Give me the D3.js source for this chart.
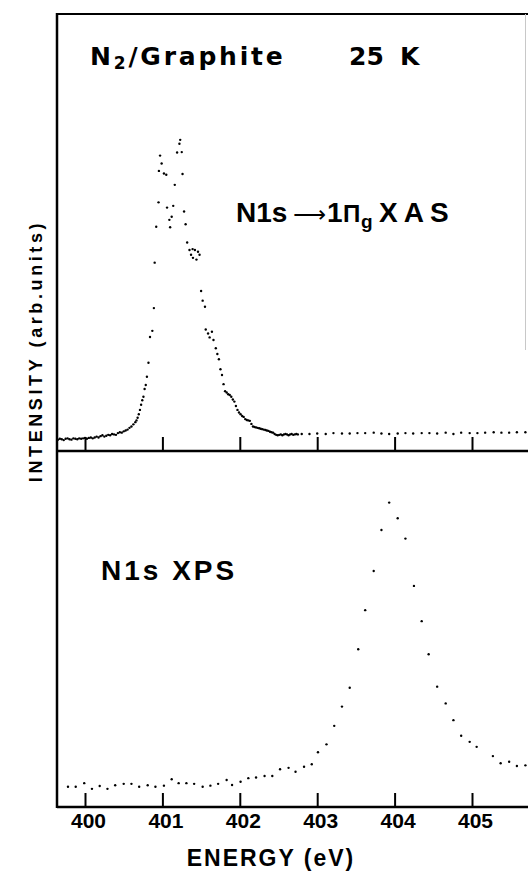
<!DOCTYPE html>
<html>
<head>
<meta charset="utf-8">
<script src="https://cdn.jsdelivr.net/npm/d3@7"></script>
<style>
  body { margin: 0; background: #fff; }
</style>
</head>
<body>
<div id="chart"></div>
<script>
// energy axis (eV)
const energyTicks = [400, 401, 402, 403, 404, 405];

// N1s -> 1pi_g XAS, upper panel (arb. units, 0 = panel bottom, 100 = panel top)
const xasEnergy = [
    399.650, 399.675, 399.700, 399.725, 399.750, 399.775, 399.800, 399.825, 399.850, 399.875,
    399.900, 399.925, 399.950, 399.975, 400.000, 400.025, 400.050, 400.075, 400.100, 400.125,
    400.150, 400.175, 400.200, 400.225, 400.250, 400.275, 400.300, 400.325, 400.350, 400.375,
    400.400, 400.425, 400.450, 400.475, 400.500, 400.525, 400.550, 400.575, 400.600, 400.625,
    400.650, 400.665, 400.680, 400.695, 400.710, 400.725, 400.740, 400.755, 400.770, 400.785,
    400.800, 400.820, 400.840, 400.870, 400.890, 400.900, 400.920, 400.950, 400.955, 400.970,
    400.990, 401.020, 401.050, 401.060, 401.090, 401.100, 401.120, 401.140, 401.160, 401.190,
    401.220, 401.230, 401.250, 401.260, 401.280, 401.300, 401.320, 401.350, 401.370, 401.390,
    401.395, 401.420, 401.440, 401.460, 401.480, 401.500, 401.520, 401.550, 401.560, 401.590,
    401.610, 401.640, 401.660, 401.690, 401.710, 401.730, 401.750, 401.770, 401.790, 401.810,
    401.830, 401.850, 401.870, 401.890, 401.910, 401.930, 401.950, 401.970, 401.990, 402.010,
    402.030, 402.050, 402.070, 402.090, 402.110, 402.130, 402.150, 402.170, 402.190, 402.210,
    402.230, 402.250, 402.270, 402.290, 402.310, 402.330, 402.350, 402.370, 402.390, 402.410,
    402.430, 402.450, 402.470, 402.490, 402.510, 402.530, 402.550, 402.570, 402.590, 402.610,
    402.630, 402.650, 402.670, 402.690, 402.710, 402.730, 402.750,
    402.80, 402.90, 403.00, 403.11, 403.21, 403.32, 403.42, 403.52, 403.62, 403.73,
    403.83, 403.93, 404.04, 404.14, 404.24, 404.35, 404.45, 404.55, 404.66, 404.76,
    404.86, 404.97, 405.07, 405.17, 405.28, 405.38, 405.48, 405.58, 405.69
];
const xasIntensity = [
    2.6, 2.8, 2.7, 2.5, 2.8, 2.9, 2.7, 2.6, 2.9, 2.8,
    2.7, 2.9, 2.8, 2.9, 3.0, 2.8, 3.0, 3.1, 2.9, 3.1,
    3.3, 3.1, 3.4, 3.6, 3.3, 3.5, 3.7, 3.6, 3.9, 3.8,
    3.7, 4.1, 4.3, 4.2, 4.5, 4.7, 4.9, 5.3, 5.6, 6.1,
    6.6, 7.0, 7.6, 8.4, 9.4, 10.6, 11.6, 12.4, 14.2, 15.1,
    17.0, 20.2, 26.1, 27.5, 32.7, 43.1, 51.3, 56.9, 64.1, 67.6,
    65.8, 63.5, 63.2, 55.7, 52.9, 51.2, 53.6, 56.1, 60.9, 68.3,
    70.3, 71.2, 68.4, 63.4, 54.8, 51.9, 47.7, 46.0, 44.9, 46.2,
    44.2, 46.0, 43.8, 45.6, 44.9, 36.6, 34.4, 33.0, 27.8, 26.9,
    26.0, 27.3, 25.4, 23.5, 22.2, 21.0, 18.7, 17.4, 15.3, 13.7,
    13.4, 13.0, 12.8, 12.4, 11.8, 11.3, 10.3, 9.4, 8.8, 8.4,
    8.0, 7.8, 7.3, 7.1, 7.0, 6.9, 6.2, 5.6, 5.5, 5.4,
    5.3, 5.2, 5.1, 5.0, 4.9, 4.8, 4.7, 4.6, 4.4, 4.3,
    4.2, 3.9, 3.7, 3.6, 3.7, 3.8, 3.6, 3.8, 3.9, 3.8,
    3.6, 3.8, 3.9, 3.7, 3.8, 3.9, 3.8,
    3.9, 3.9, 4.0, 3.9, 4.1, 4.0, 4.0, 4.1, 4.1, 4.2,
    4.0, 3.9, 4.0, 4.1, 4.0, 4.1, 4.1, 4.0, 4.2, 3.9,
    4.2, 4.1, 4.1, 4.2, 4.3, 4.2, 4.2, 4.3, 4.3
];

// N1s XPS, lower panel
const xpsEnergy = [
    399.78, 399.88, 399.99, 400.09, 400.19, 400.29, 400.39, 400.50, 400.60, 400.70,
    400.81, 400.91, 401.02, 401.12, 401.21, 401.31, 401.41, 401.52, 401.62, 401.72,
    401.83, 401.90, 402.01, 402.11, 402.21, 402.32, 402.42, 402.52, 402.63, 402.72,
    402.83, 402.93, 403.01, 403.12, 403.22, 403.32, 403.42, 403.53, 403.62, 403.73,
    403.83, 403.93, 404.04, 404.14, 404.25, 404.35, 404.44, 404.55, 404.66, 404.76,
    404.86, 404.97, 405.06, 405.27, 405.37, 405.48, 405.58, 405.69
];
const xpsIntensity = [
    5.7, 5.7, 6.7, 5.1, 5.9, 5.1, 6.1, 6.5, 6.5, 5.7,
    6.1, 5.7, 6.0, 7.8, 6.7, 6.7, 6.5, 5.7, 6.0, 6.5,
    7.6, 6.2, 7.1, 8.1, 8.3, 8.7, 8.7, 10.6, 11.0, 9.9,
    11.3, 12.0, 15.4, 17.6, 22.8, 28.2, 33.5, 44.3, 55.3, 66.3,
    77.8, 85.5, 81.1, 75.4, 62.1, 52.2, 42.9, 33.8, 29.1, 24.4,
    20.0, 18.3, 16.9, 14.3, 12.3, 12.7, 11.5, 11.7
];

const width = 528, height = 872;
const frame = { left: 57, right: 528, top: 14, mid: 451, bottom: 807 };
const sans = "Liberation Sans, Arial, sans-serif";
const wide = "DejaVu Sans, sans-serif";

const svg = d3.select("#chart").append("svg")
    .attr("width", width)
    .attr("height", height)
    .style("font-family", sans)
    .style("font-weight", "bold");

const x = d3.scaleLinear().domain([400, 405]).range([85, 472]);
const yTop = d3.scaleLinear().domain([0, 100]).range([frame.mid, frame.top]);
const yBot = d3.scaleLinear().domain([0, 100]).range([frame.bottom, frame.mid]);

// frame lines
svg.append("line")
    .attr("x1", frame.left).attr("x2", frame.right)
    .attr("y1", frame.top).attr("y2", frame.top)
    .attr("stroke", "#000").attr("stroke-width", 2);
svg.append("line")
    .attr("x1", frame.left).attr("x2", frame.left)
    .attr("y1", frame.top - 1).attr("y2", frame.bottom + 1)
    .attr("stroke", "#000").attr("stroke-width", 2.5);
// faint right edge
svg.append("line")
    .attr("x1", 525.5).attr("x2", 525.5)
    .attr("y1", frame.top).attr("y2", 350)
    .attr("stroke", "#c8c8c8").attr("stroke-width", 1);

[frame.mid, frame.bottom].forEach(yy => {
    svg.append("line")
        .attr("x1", frame.left).attr("x2", frame.right)
        .attr("y1", yy).attr("y2", yy)
        .attr("stroke", "#000").attr("stroke-width", 2.5);
});

// upper axis: ticks only
const axisUpper = svg.append("g")
    .attr("transform", `translate(0,${frame.mid})`)
    .call(d3.axisBottom(x).tickValues(energyTicks).tickSize(-14).tickFormat(""));
axisUpper.select(".domain").remove();
axisUpper.selectAll("line").attr("stroke", "#000").attr("stroke-width", 2);

// lower axis with labels
const axisLower = svg.append("g")
    .attr("transform", `translate(0,${frame.bottom})`)
    .call(d3.axisBottom(x).tickValues(energyTicks).tickSize(-14).tickPadding(6).tickFormat(d3.format("d")));
axisLower.select(".domain").remove();
axisLower.selectAll("line").attr("stroke", "#000").attr("stroke-width", 2);
axisLower.attr("font-family", null).attr("font-size", null);
axisLower.selectAll("text")
    .attr("font-size", 21)
    .attr("fill", "#000")
    .attr("dx", 3);

// data points
svg.append("g").selectAll("circle")
    .data(d3.zip(xasEnergy, xasIntensity))
    .join("circle")
    .attr("cx", d => x(d[0]))
    .attr("cy", d => yTop(d[1]))
    .attr("r", 1.2)
    .attr("fill", "#000");

svg.append("g").selectAll("circle")
    .data(d3.zip(xpsEnergy, xpsIntensity))
    .join("circle")
    .attr("cx", d => x(d[0]))
    .attr("cy", d => yBot(d[1]))
    .attr("r", 1.2)
    .attr("fill", "#000");

// title
const title = svg.append("text")
    .attr("x", 90).attr("y", 65)
    .style("font-family", wide)
    .attr("font-size", 25)
    .attr("letter-spacing", 2.8);
title.append("tspan").text("N");
title.append("tspan").attr("font-size", 17).attr("dy", 4).text("2");
title.append("tspan").attr("dy", -4).text("/Graphite");

const temp = svg.append("text")
    .attr("y", 65)
    .style("font-family", wide)
    .attr("font-size", 25);
temp.append("tspan").attr("x", 349).text("25");
temp.append("tspan").attr("x", 400).text("K");

// XAS label
const xasLabel = svg.append("text")
    .attr("y", 222)
    .attr("font-size", 28);
xasLabel.append("tspan").attr("x", 236).text("N1s");
xasLabel.append("tspan").attr("x", 293)
    .style("font-family", wide)
    .style("font-weight", "normal")
    .attr("font-size", 23)
    .text("⟶");
xasLabel.append("tspan").attr("x", 327).text("1");
xasLabel.append("tspan").attr("x", 343).attr("font-size", 24).text("Π");
xasLabel.append("tspan").attr("x", 361).attr("font-size", 19).attr("dy", 6).text("g");
xasLabel.append("tspan").attr("x", 379).attr("dy", -6).attr("letter-spacing", 6).text("XAS");

// XPS label
svg.append("text")
    .attr("x", 101).attr("y", 580)
    .attr("font-size", 28)
    .attr("letter-spacing", 3)
    .text("N1s XPS");

// axis titles
svg.append("text")
    .attr("transform", "translate(42,351) rotate(-90)")
    .attr("text-anchor", "middle")
    .attr("font-size", 18)
    .attr("letter-spacing", 3.6)
    .text("INTENSITY (arb.units)");

svg.append("text")
    .attr("x", 271).attr("y", 866)
    .attr("text-anchor", "middle")
    .attr("font-size", 23)
    .attr("letter-spacing", 2)
    .text("ENERGY (eV)");
</script>
</body>
</html>
